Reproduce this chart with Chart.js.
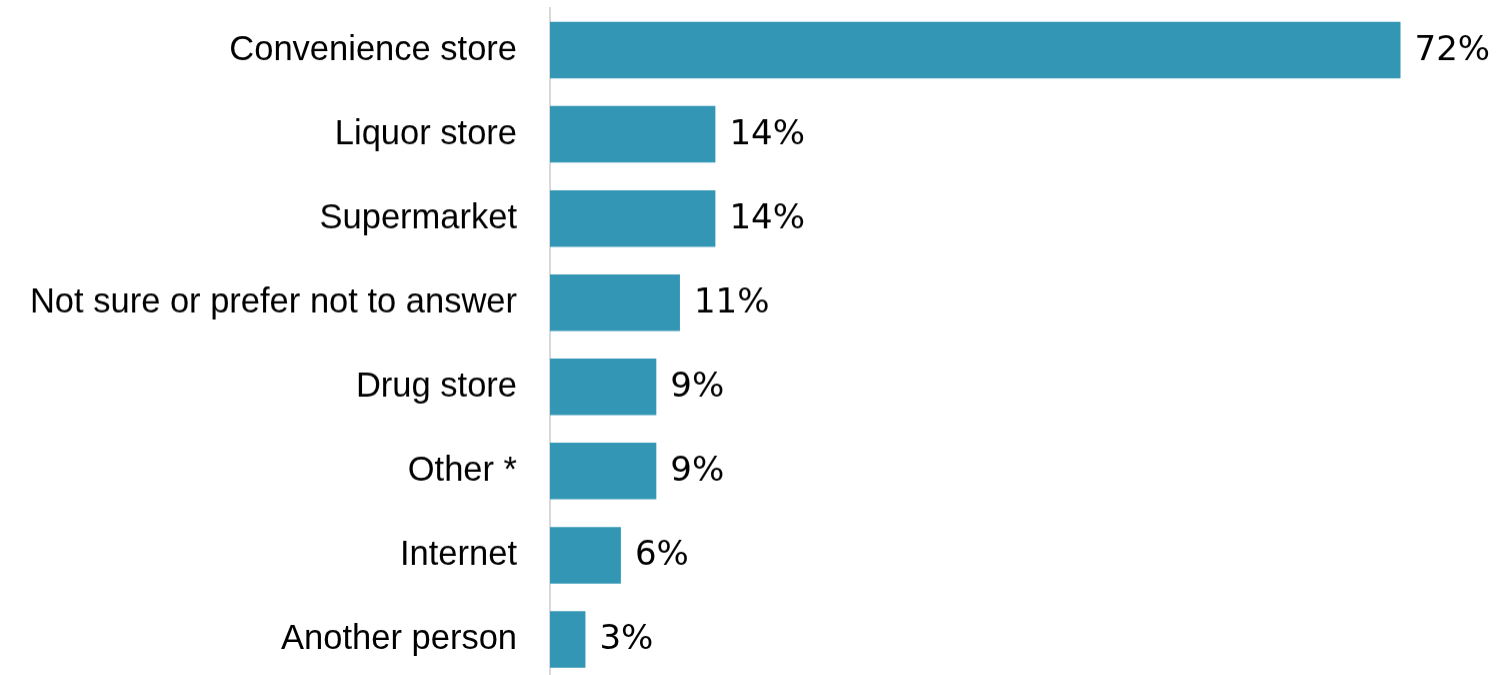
<!DOCTYPE html>
<html><head><meta charset="utf-8">
<script src="https://cdn.jsdelivr.net/npm/chart.js@4/dist/chart.umd.min.js"></script>
<style>html,body{margin:0;padding:0;background:#fff;overflow:hidden;height:675px;}#wrap{width:1497px;height:680.5px;position:relative;}</style>
</head><body><div id="wrap"><canvas id="c"></canvas></div>
<script>
const categories = ["Convenience store","Liquor store","Supermarket","Not sure or prefer not to answer","Drug store","Other *","Internet","Another person"];
const values = [72,14,14,11,9,9,6,3];
const valueLabels = ["72%","14%","14%","11%","9%","9%","6%","3%"];

const valuePlugin = {
  id:'vals',
  afterDatasetsDraw(chart){
    const ctx = chart.ctx;
    const meta = chart.getDatasetMeta(0);
    ctx.save();
    ctx.font = '34px "DejaVu Sans", sans-serif';
    ctx.fillStyle = '#000';
    ctx.textAlign = 'left';
    ctx.textBaseline = 'middle';
    meta.data.forEach((bar,i)=>{
      ctx.fillText(valueLabels[i], bar.x + 14, bar.y + 1);
    });
    ctx.restore();
  }
};

new Chart(document.getElementById('c'), {
  type:'bar',
  data:{labels:categories, datasets:[{data:values, backgroundColor:'#3296B4', borderWidth:0, barPercentage:0.672, categoryPercentage:1}]},
  options:{
    indexAxis:'y', responsive:true, maintainAspectRatio:false, animation:false,
    layout:{padding:{top:8,bottom:0,left:0,right:2}},
    plugins:{legend:{display:false}, tooltip:{enabled:false}},
    scales:{
      x:{min:0,max:80,display:false,grid:{display:false}},
      y:{
        grid:{display:false, drawTicks:false},
        border:{display:true,color:'#d9d9d9',width:2},
        ticks:{color:'#000', padding:33, font:{family:'"Liberation Sans", Arial, sans-serif', size:34.5}},
        afterFit(s){ s.width = 550; s.paddingTop = 0; s.paddingBottom = 0; }
      }
    }
  },
  plugins:[valuePlugin]
});
</script></body></html>
